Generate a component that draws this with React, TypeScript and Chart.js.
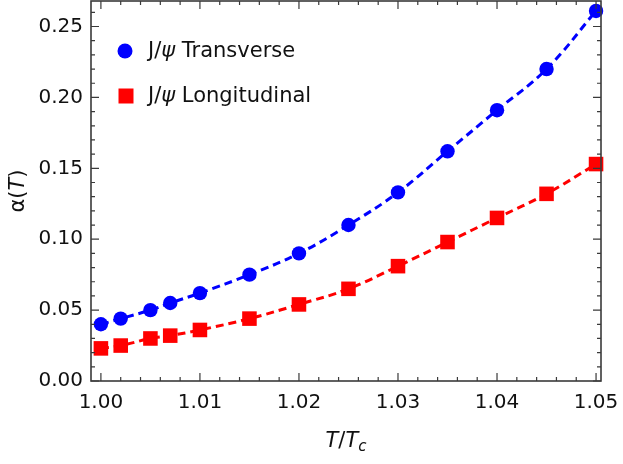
import React, { useEffect, useRef } from 'react';
import { Chart, registerables } from 'chart.js';

Chart.register(...registerables);

// T/Tc sample points
const tRatio = [1.0, 1.002, 1.005, 1.007, 1.01, 1.015, 1.02, 1.025, 1.03, 1.035, 1.04, 1.045, 1.05];
// alpha(T) for the two J/psi polarisations
const transverse = [0.040, 0.044, 0.050, 0.055, 0.062, 0.075, 0.090, 0.110, 0.133, 0.162, 0.191, 0.220, 0.261];
const longitudinal = [0.023, 0.025, 0.030, 0.032, 0.036, 0.044, 0.054, 0.065, 0.081, 0.098, 0.115, 0.132, 0.153];

const xTicks = [1.0, 1.01, 1.02, 1.03, 1.04, 1.05];
const yTicks = [0.0, 0.05, 0.1, 0.15, 0.2, 0.25];

const FONT = '"DejaVu Sans", "Liberation Sans", Arial, sans-serif';
const FRAME = '#3a3a3a';

// draw runs of text with their own fonts, left to right
const drawRuns = (ctx: CanvasRenderingContext2D, runs: { t: string; f: string; dy?: number }[], x: number, y: number) => {
  let cx = x;
  for (const r of runs) {
    ctx.font = r.f;
    ctx.fillText(r.t, cx, y + (r.dy || 0));
    cx += ctx.measureText(r.t).width;
  }
  return cx - x;
};
const runsWidth = (ctx: CanvasRenderingContext2D, runs: { t: string; f: string }[]) =>
  runs.reduce((w, r) => {
    ctx.font = r.f;
    return w + ctx.measureText(r.t).width;
  }, 0);

// frame with inward ticks on all four sides, axis titles and legend
const framePlugin = {
  id: 'frame',
  afterDraw(chart: any) {
    const { ctx, chartArea: a, scales } = chart;
    const xs = scales.x;
    const ys = scales.y;
    ctx.save();
    ctx.strokeStyle = FRAME;
    ctx.lineWidth = 1.6;
    ctx.strokeRect(a.left, a.top, a.right - a.left, a.bottom - a.top);

    ctx.lineWidth = 1.2;
    ctx.beginPath();
    for (let i = 0; i <= 25; i++) {
      const v = 1.0 + i * 0.002;
      const px = xs.getPixelForValue(v);
      const len = i % 5 === 0 ? 8 : 4;
      ctx.moveTo(px, a.bottom);
      ctx.lineTo(px, a.bottom - len);
      ctx.moveTo(px, a.top);
      ctx.lineTo(px, a.top + len);
    }
    for (let i = 0; i <= 26; i++) {
      const v = i * 0.01;
      const py = ys.getPixelForValue(v);
      const len = i % 5 === 0 ? 8 : 4;
      ctx.moveTo(a.left, py);
      ctx.lineTo(a.left + len, py);
      ctx.moveTo(a.right, py);
      ctx.lineTo(a.right - len, py);
    }
    ctx.stroke();

    ctx.fillStyle = '#111';
    ctx.textBaseline = 'alphabetic';
    const n = `21px ${FONT}`;
    const it = `italic 21px ${FONT}`;

    // y title
    const yRuns = [
      { t: 'α(', f: n },
      { t: 'T', f: it },
      { t: ')', f: n },
    ];
    ctx.save();
    ctx.translate(24, 191);
    ctx.rotate(-Math.PI / 2);
    drawRuns(ctx, yRuns, -runsWidth(ctx, yRuns) / 2, 0);
    ctx.restore();

    // x title
    const xRuns = [
      { t: 'T', f: it },
      { t: '/', f: n },
      { t: 'T', f: it },
    ];
    const xw = runsWidth(ctx, xRuns);
    ctx.font = `italic 15px ${FONT}`;
    const cw = ctx.measureText('c').width;
    const x0 = 346 - (xw + cw) / 2;
    drawRuns(ctx, xRuns, x0, 447);
    ctx.font = `italic 15px ${FONT}`;
    ctx.fillText('c', x0 + xw, 451);

    // legend
    const ln = `21px ${FONT}`;
    const li = `italic 21px ${FONT}`;
    const items = [
      { label: ' Transverse', color: '#0000ff', style: 'circle', y: 51 },
      { label: ' Longitudinal', color: '#ff0000', style: 'rect', y: 96 },
    ];
    ctx.textBaseline = 'middle';
    for (const item of items) {
      ctx.fillStyle = item.color;
      ctx.beginPath();
      if (item.style === 'circle') ctx.arc(125, item.y, 7.5, 0, Math.PI * 2);
      else ctx.rect(118.5, item.y - 7.5, 15, 15);
      ctx.fill();
      ctx.fillStyle = '#111';
      drawRuns(ctx, [
        { t: 'J/', f: ln },
        { t: 'ψ', f: li },
        { t: item.label, f: ln },
      ], 148, item.y + 1);
    }
    ctx.restore();
  },
};

const App: React.FC = () => {
  const canvasRef = useRef<HTMLCanvasElement>(null);
  const chartRef = useRef<Chart | null>(null);

  useEffect(() => {
    if (!canvasRef.current) return;
    const ctx = canvasRef.current.getContext('2d');
    if (!ctx) return;

    chartRef.current = new Chart(ctx, {
      type: 'line',
      data: {
        datasets: [
          {
            label: 'J/ψ Transverse',
            data: tRatio.map((x, i) => ({ x, y: transverse[i] })),
            borderColor: '#0000ff',
            backgroundColor: '#0000ff',
            borderWidth: 3,
            borderDash: [8, 5],
            tension: 0.4,
            pointStyle: 'circle',
            pointRadius: 7.2,
            pointBorderWidth: 0,
            clip: false,
          },
          {
            label: 'J/ψ Longitudinal',
            data: tRatio.map((x, i) => ({ x, y: longitudinal[i] })),
            borderColor: '#ff0000',
            backgroundColor: '#ff0000',
            borderWidth: 3,
            borderDash: [8, 5],
            tension: 0.4,
            pointStyle: 'rect',
            pointRadius: 10.3,
            pointBorderWidth: 0,
            clip: false,
          },
        ],
      },
      options: {
        animation: false,
        responsive: true,
        maintainAspectRatio: false,
        layout: { autoPadding: false, padding: { top: 1, right: 22, left: 0, bottom: 0 } },
        plugins: {
          legend: { display: false },
          tooltip: { enabled: false },
        },
        scales: {
          x: {
            type: 'linear',
            min: 0.999,
            max: 1.0505,
            grid: { display: false, drawTicks: false },
            border: { display: false },
            afterFit: (s: any) => {
              s.height = 83;
              s.paddingLeft = 0;
              s.paddingRight = 0;
            },
            afterBuildTicks: (s: any) => {
              s.ticks = xTicks.map((value) => ({ value }));
            },
            ticks: {
              padding: 10,
              color: '#111',
              font: { family: FONT, size: 20 },
              callback: (v: any) => Number(v).toFixed(2),
            },
          },
          y: {
            type: 'linear',
            min: 0,
            max: 0.268,
            grid: { display: false, drawTicks: false },
            border: { display: false },
            afterFit: (s: any) => {
              s.width = 91;
              s.paddingTop = 0;
              s.paddingBottom = 0;
            },
            afterBuildTicks: (s: any) => {
              s.ticks = yTicks.map((value) => ({ value }));
            },
            ticks: {
              padding: 8,
              color: '#111',
              font: { family: FONT, size: 20 },
              callback: (v: any) => Number(v).toFixed(2),
            },
          },
        },
      },
      plugins: [framePlugin],
    });

    return () => {
      chartRef.current?.destroy();
      chartRef.current = null;
    };
  }, []);

  return (
    <div style={{ position: 'fixed', left: 0, top: 0, width: 623, height: 464, background: '#fff' }}>
      <canvas ref={canvasRef}></canvas>
    </div>
  );
};

export default App;
